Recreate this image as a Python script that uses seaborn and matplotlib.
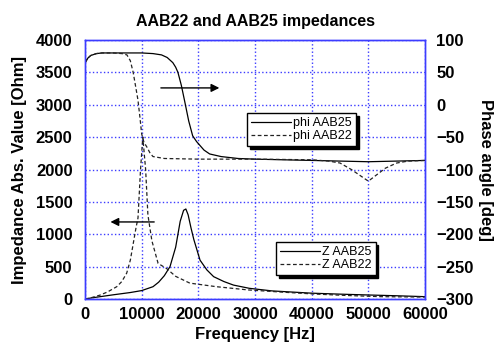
import numpy as np
import pandas as pd
import matplotlib
matplotlib.use("Agg")
import matplotlib.pyplot as plt
import seaborn as sns

# phase curves (right axis)
freq_phi25 = [0, 500, 1000, 2000, 3000, 5000, 8000, 10000, 12000, 13500, 14500, 15500, 16000,
              16400, 17000, 17600, 18300, 19000, 19700, 20300, 21000, 22000, 24000, 27000,
              30000, 35000, 40000, 45000, 50000, 55000, 60000]
phi25 = [64, 72, 76, 79, 80, 80, 80, 80, 79, 77, 73, 65, 58,
         50, 30, 5, -25, -48, -57, -63, -70, -76, -80, -83,
         -84, -85, -86, -87, -88, -87, -86]

freq_phi22 = [0, 500, 1000, 2000, 3000, 5000, 6500, 7400, 8000, 8500, 9000, 9350, 9700, 10000,
              10400, 10900, 11500, 12000, 14000, 20000, 30000, 40000, 43000, 45000, 47000,
              49000, 50000, 51500, 53000, 55000, 57000, 60000]
phi22 = [66, 72, 76, 79, 80, 80, 79, 77, 68, 50, 25, 7, -20, -45,
         -58, -65, -75, -80, -83, -84, -84, -85, -87, -90, -100,
         -112, -118, -108, -98, -90, -87, -86]

# impedance curves (left axis)
freq_z25 = [0, 1000, 3000, 5000, 8000, 10000, 12000, 13000, 14000, 15000, 16000, 16800, 17400,
            17800, 18200, 18700, 19200, 20300, 21500, 22700, 24500, 26200, 29000, 33000,
            40000, 45000, 50000, 55000, 60000]
z25 = [0, 15, 40, 65, 100, 130, 190, 260, 360, 500, 800, 1200, 1370,
       1390, 1300, 1100, 920, 600, 450, 345, 270, 215, 165, 125,
       90, 75, 62, 50, 36]

freq_z22 = [0, 900, 2650, 4000, 5600, 6500, 7360, 8000, 8500, 9000, 9350, 9800, 10200, 10700,
            11100, 11800, 12900, 14400, 16000, 18500, 23200, 28800, 35000, 40500, 46000,
            52200, 60000]
z22 = [0, 15, 60, 110, 190, 270, 400, 600, 850, 1100, 1250, 2000, 2500, 2000,
       1300, 900, 550, 470, 350, 245, 190, 140, 105, 77, 55,
       36, 30]

sns.set_theme(style="white")
plt.rcParams["font.family"] = ["Liberation Sans", "DejaVu Sans"]
plt.rcParams.update({"text.color": "black", "axes.labelcolor": "black",
                     "xtick.color": "black", "ytick.color": "black"})

blue = "#3c3cff"
fig = plt.figure(figsize=(4.98, 3.43), dpi=100)
ax = fig.add_axes([85 / 498, 44 / 343, 340 / 498, 259 / 343])
ax2 = ax.twinx()

df_z25 = pd.DataFrame({"f": freq_z25, "v": z25})
df_z22 = pd.DataFrame({"f": freq_z22, "v": z22})
df_p25 = pd.DataFrame({"f": freq_phi25, "v": phi25})
df_p22 = pd.DataFrame({"f": freq_phi22, "v": phi22})

sns.lineplot(data=df_z25, x="f", y="v", ax=ax, color="black", lw=0.9, label="Z AAB25", legend=False)
sns.lineplot(data=df_z22, x="f", y="v", ax=ax, color="#222222", lw=0.9, ls=(0, (3, 2)),
             label="Z AAB22", legend=False)
sns.lineplot(data=df_p25, x="f", y="v", ax=ax2, color="black", lw=0.9, label="phi AAB25", legend=False)
sns.lineplot(data=df_p22, x="f", y="v", ax=ax2, color="#222222", lw=0.9, ls=(0, (3, 2)),
             label="phi AAB22", legend=False)

ax.set_xlim(0, 60000)
ax.set_ylim(0, 4000)
ax2.set_ylim(-300, 100)
ax.set_xticks(range(0, 60001, 10000))
ax.set_yticks(range(0, 4001, 500))
ax2.set_yticks(range(-300, 101, 50))

ax.grid(True, color=blue, ls=":", lw=1.0)
for a in (ax, ax2):
    for s in a.spines.values():
        s.set_color(blue)
        s.set_linewidth(1.0)
    a.tick_params(length=0, labelsize=12)
    for lab in a.get_xticklabels() + a.get_yticklabels():
        lab.set_fontweight("bold")
ax.tick_params(axis="y", pad=9)
ax.tick_params(axis="x", pad=6)
ax2.tick_params(axis="y", pad=8)

ax.set_xlabel("Frequency [Hz]", fontsize=12, fontweight="bold", labelpad=3)
ax.set_ylabel("Impedance Abs. Value [Ohm]", fontsize=12, fontweight="bold", labelpad=6)
ax2.set_ylabel("Phase angle [deg]", fontsize=12, fontweight="bold", rotation=270, labelpad=14)
ax.set_title("AAB22 and AAB25 impedances", fontsize=11.5, fontweight="bold", pad=10)

arrow = dict(arrowstyle="-|>", color="black", lw=1.0, mutation_scale=12)
ax.annotate("", xy=(24200, 3260), xytext=(12900, 3260), arrowprops=arrow)
ax.annotate("", xy=(4000, 1190), xytext=(12700, 1190), arrowprops=arrow)

leg_kw = dict(fontsize=9, frameon=True, fancybox=False, shadow={"color": "black", "alpha": 1},
              edgecolor="black", framealpha=1, borderpad=0.35, labelspacing=0.05,
              handlelength=3.2, handletextpad=0.1, borderaxespad=0)
h2, l2 = ax2.get_legend_handles_labels()
leg1 = ax2.legend(h2, l2, loc="upper left", bbox_to_anchor=(247 / 498, 1 - 113 / 343),
                  bbox_transform=fig.transFigure, **leg_kw)
leg1.get_frame().set_linewidth(1.0)
h1, l1 = ax.get_legend_handles_labels()
leg2 = ax2.legend(h1, l1, loc="upper left", bbox_to_anchor=(276 / 498, 1 - 242 / 343),
                  bbox_transform=fig.transFigure, **leg_kw)
leg2.get_frame().set_linewidth(1.0)
ax2.add_artist(leg1)

fig.savefig("out.png", dpi=100)
